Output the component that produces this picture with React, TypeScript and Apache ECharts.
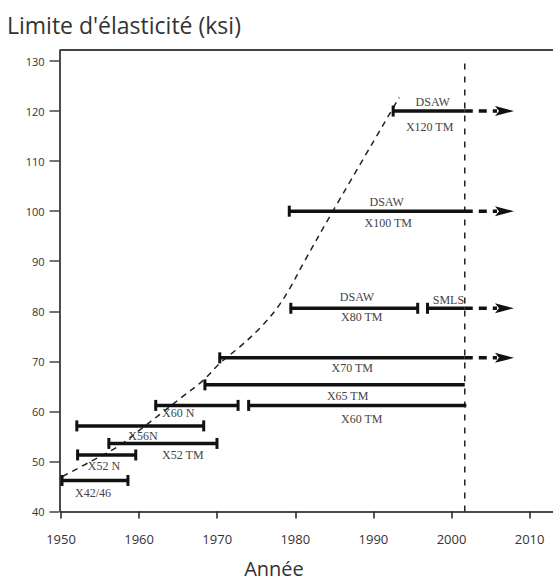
import React, { useEffect, useRef } from "react";
import * as echarts from "echarts";

// ---- axis ticks ----
const yearTicks = [1950, 1960, 1970, 1980, 1990, 2000, 2010];
const ksiTicks = [40, 50, 60, 70, 80, 90, 100, 110, 120, 130];

// ---- horizontal grade bars (start year, end year, yield strength ksi) ----
const barStart = [1992.4, 1979.1, 1979.3, 1996.8, 1970.2, 1968.3, 1962.0, 1973.9, 1951.9, 1956.0, 1952.0, 1950.0];
const barEnd = [2001.7, 2001.7, 1995.8, 2001.7, 2001.7, 2001.7, 1972.8, 2001.9, 1968.4, 1970.1, 1959.7, 1958.7];
const barKsi = [120, 100, 80.6, 80.6, 70.7, 65.3, 61.2, 61.2, 57.1, 53.6, 51.3, 46.2];
const capAtStart = [1, 1, 1, 1, 1, 1, 1, 1, 1, 1, 1, 1];
const capAtEnd = [0, 0, 1, 0, 0, 0, 1, 0, 1, 1, 1, 1];

// ---- dashed continuation arrows ----
const arrowKsi = [120, 100, 80.6, 70.7];
const arrowFrom = [2001.7, 2001.7, 2001.7, 2001.7];
const arrowTo = [2008.0, 2008.0, 2008.0, 2008.0];

// ---- vertical limit line ----
const limitYear = 2001.7;
const limitKsiRange = [40, 130.4];

// ---- dashed trend curve ----
const curveYears = [1950.2, 1953.7, 1957.2, 1960.1, 1962.9, 1965.6, 1968.2, 1970.4, 1972.9, 1975.5, 1977.6, 1979.3, 1981.0, 1984.7, 1993.3];
const curveKsi = [47.0, 49.9, 52.9, 56.3, 59.7, 63.0, 66.2, 69.7, 72.9, 76.7, 80.5, 84.6, 89.5, 99.7, 122.7];

// ---- bar annotations ----
const labelTexts = ["DSAW", "X120 TM", "DSAW", "X100 TM", "DSAW", "X80 TM", "SMLS", "X70 TM", "X65 TM", "X60 TM", "X60 N", "X56N", "X52 TM", "X52 N", "X42/46"];
const labelYears = [1997.6, 1997.2, 1991.7, 1991.9, 1987.9, 1988.5, 1999.6, 1987.3, 1986.7, 1988.5, 1965.0, 1960.5, 1965.6, 1955.5, 1954.1];
const labelKsi = [121.8, 116.8, 101.8, 97.6, 82.9, 78.9, 82.3, 68.7, 63.1, 58.5, 59.7, 55.1, 51.3, 49.1, 43.7];

const SANS = '"Open Sans", "Noto Sans", sans-serif';
const SERIF = '"Liberation Serif", "DejaVu Serif", serif';

export default function App() {
  const ref = useRef<HTMLDivElement>(null);

  useEffect(() => {
    if (!ref.current) return;
    const chart = echarts.init(ref.current, undefined, { renderer: "svg" });

    const barData = barStart.map((s, i) => [s, barEnd[i], barKsi[i], capAtStart[i], capAtEnd[i]]);
    const arrowData = arrowKsi.map((k, i) => [arrowFrom[i], arrowTo[i], k]);
    const labelData = labelYears.map((y, i) => [y, labelKsi[i]]);
    const curveData = curveYears.map((y, i) => [y, curveKsi[i]]);

    const option: any = {
      animation: false,
      grid: { left: 61, top: 50, width: 507.65, height: 461.5 },
      xAxis: [
        {
          type: "value",
          min: 1950,
          max: 2015,
          splitLine: { show: false },
          axisLine: { show: true, lineStyle: { color: "#111", width: 1.5 } },
          axisTick: { show: true, customValues: yearTicks, length: 7, lineStyle: { color: "#222", width: 1.5 } },
          axisLabel: {
            customValues: yearTicks,
            margin: 21,
            fontSize: 13,
            color: "#333",
            fontFamily: SANS,
            formatter: (v: number) => String(Math.round(v)),
          },
        },
        {
          type: "value",
          position: "top",
          min: 1950,
          max: 2015,
          splitLine: { show: false },
          axisLine: { show: true, lineStyle: { color: "#444", width: 2 } },
          axisTick: { show: false },
          axisLabel: { show: false },
        },
      ],
      yAxis: {
        type: "value",
        min: 40,
        max: 132.2,
        offset: 1.5,
        splitLine: { show: false },
        axisLine: { show: true, lineStyle: { color: "#111", width: 1.5 } },
        axisTick: { show: true, customValues: ksiTicks, length: 10, lineStyle: { color: "#444", width: 1.5 } },
        axisLabel: {
          customValues: ksiTicks,
          margin: 15,
          fontSize: 11,
          color: "#333",
          fontFamily: SANS,
          formatter: (v: number) => String(Math.round(v)),
        },
      },
      graphic: [
        {
          type: "text",
          x: 7,
          y: 25,
          style: { text: "Limite d'élasticité (ksi)", fill: "#333", font: `23px ${SANS}`, verticalAlign: "middle", align: "left" },
        },
        {
          type: "text",
          x: 274,
          y: 568,
          style: { text: "Année", fill: "#333", font: `20px ${SANS}`, verticalAlign: "middle", align: "center" },
        },
      ],
      series: [
        {
          type: "line",
          data: curveData,
          smooth: 0.35,
          symbol: "none",
          lineStyle: { color: "#222", width: 1.5, type: [6, 5] },
          z: 2,
        },
        {
          type: "line",
          data: [
            [limitYear, limitKsiRange[0]],
            [limitYear, limitKsiRange[1]],
          ],
          symbol: "none",
          lineStyle: { color: "#222", width: 1.5, type: [6, 7] },
          z: 2,
        },
        {
          type: "custom",
          data: arrowData,
          encode: { x: [0, 1], y: 2 },
          z: 3,
          renderItem: (params: any, api: any) => {
            const s = api.coord([api.value(0), api.value(2)]);
            const e = api.coord([api.value(1), api.value(2)]);
            const headLen = 19;
            const half = 5;
            return {
              type: "group",
              children: [
                {
                  type: "line",
                  shape: { x1: s[0], y1: s[1], x2: e[0] - headLen + 2, y2: e[1] },
                  style: { stroke: "#111", lineWidth: 3.5, lineDash: [8, 6] },
                },
                {
                  type: "polygon",
                  shape: {
                    points: [
                      [e[0], e[1]],
                      [e[0] - headLen, e[1] - half],
                      [e[0] - headLen + 4, e[1]],
                      [e[0] - headLen, e[1] + half],
                    ],
                  },
                  style: { fill: "#111" },
                },
              ],
            };
          },
        },
        {
          type: "custom",
          data: barData,
          encode: { x: [0, 1], y: 2 },
          z: 4,
          renderItem: (params: any, api: any) => {
            const s = api.coord([api.value(0), api.value(2)]);
            const e = api.coord([api.value(1), api.value(2)]);
            const children: any[] = [
              {
                type: "line",
                shape: { x1: s[0], y1: s[1], x2: e[0], y2: e[1] },
                style: { stroke: "#111", lineWidth: 3.5 },
              },
            ];
            if (api.value(3)) {
              children.push({
                type: "line",
                shape: { x1: s[0] + 1, y1: s[1] - 5.5, x2: s[0] + 1, y2: s[1] + 5.5 },
                style: { stroke: "#111", lineWidth: 3 },
              });
            }
            if (api.value(4)) {
              children.push({
                type: "line",
                shape: { x1: e[0] - 1, y1: e[1] - 5.5, x2: e[0] - 1, y2: e[1] + 5.5 },
                style: { stroke: "#111", lineWidth: 3 },
              });
            }
            return { type: "group", children };
          },
        },
        {
          type: "custom",
          data: labelData,
          encode: { x: 0, y: 1 },
          z: 5,
          renderItem: (params: any, api: any) => {
            const p = api.coord([api.value(0), api.value(1)]);
            return {
              type: "text",
              x: p[0],
              y: p[1],
              style: {
                text: labelTexts[params.dataIndex],
                fill: "#444",
                font: `12px ${SERIF}`,
                align: "center",
                verticalAlign: "middle",
              },
            };
          },
        },
      ],
    };

    chart.setOption(option);
    return () => chart.dispose();
  }, []);

  return (
    <div style={{ position: "fixed", left: 0, top: 0, width: 553, height: 583, overflow: "hidden", background: "#fff" }}>
      <div ref={ref} style={{ width: 620, height: 583 }} />
    </div>
  );
}
